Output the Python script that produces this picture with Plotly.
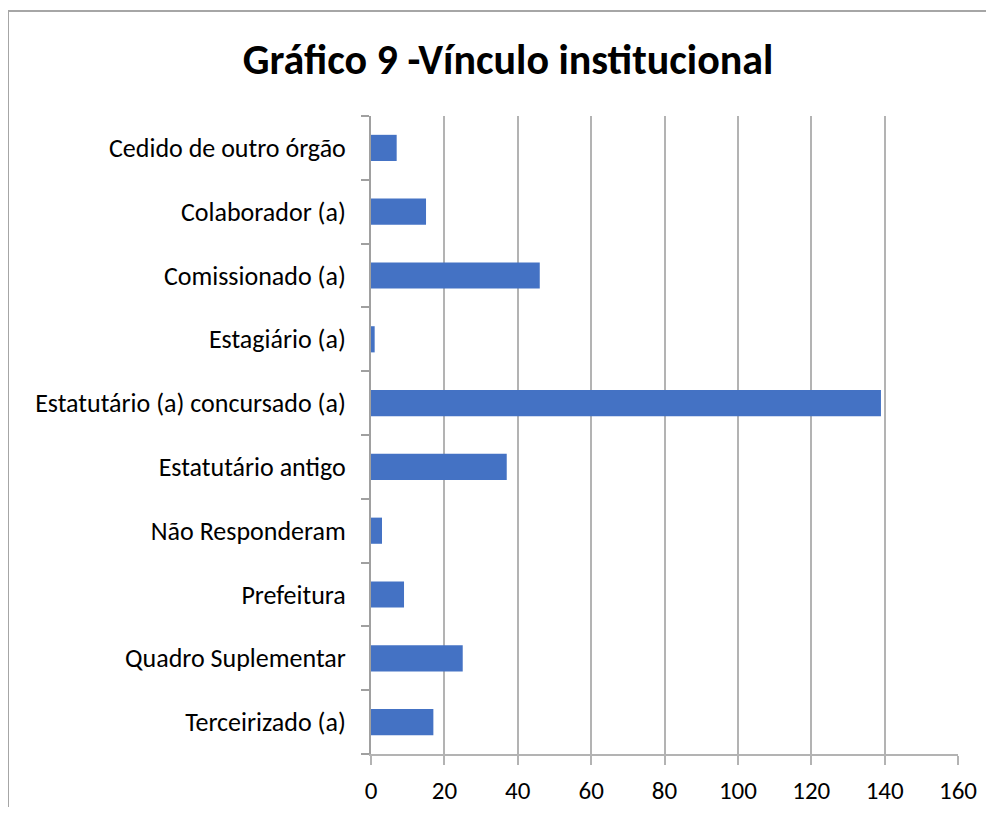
import plotly.graph_objects as go

categories = [
    "Cedido de outro órgão",
    "Colaborador (a)",
    "Comissionado (a)",
    "Estagiário (a)",
    "Estatutário (a) concursado (a)",
    "Estatutário antigo",
    "Não Responderam",
    "Prefeitura",
    "Quadro Suplementar",
    "Terceirizado (a)",
]
values = [7, 15, 46, 1, 139, 37, 3, 9, 25, 17]
x_ticks = [0, 20, 40, 60, 80, 100, 120, 140, 160]
title_text = "Gráfico 9 -Vínculo institucional"

# page offset (body margin) compensation
OFF = 8
W, H = 994 - OFF, 815 - 2 * OFF
L, R, T, B = 371 - OFF, 958 - OFF, 116 - OFF, 754 - OFF
pw, ph = R - L, B - T

font_family = "Carlito, Calibri, Lato, sans-serif"

fig = go.Figure(go.Bar(
    x=values, y=categories, orientation="h",
    marker=dict(color="#4472C4", line=dict(width=0)),
    width=0.41,
))

fig.update_layout(
    width=W, height=H,
    margin=dict(l=L, r=W - R, t=T, b=H - B, autoexpand=False),
    paper_bgcolor="white", plot_bgcolor="white",
    showlegend=False,
    font=dict(family=font_family, color="#000000", size=26),
    title=dict(text="<b>" + title_text + "</b>", x=(508 - OFF) / W, xanchor="center",
               xref="container", y=1 - (59 - OFF) / H, yanchor="middle", yref="container",
               font=dict(family=font_family, size=42, color="#000000")),
    bargap=0.59,
)

fig.update_xaxes(
    range=[0, 160], tickvals=x_ticks, showgrid=True, gridcolor="#b3b3b3", gridwidth=1.5,
    showline=True, linecolor="#b3b3b3", linewidth=1.5,
    ticks="outside", ticklen=9, tickcolor="#b3b3b3", tickwidth=1.5,
    zeroline=False, tickfont=dict(size=25, color="#000000"),
    ticklabelstandoff=4, automargin=False,
)
fig.update_yaxes(
    categoryorder="array", categoryarray=categories[::-1],
    showline=True, linecolor="#a0a0a0", linewidth=2,
    ticks="outside", tickson="boundaries", ticklen=8, tickcolor="#a0a0a0", tickwidth=1.5,
    showgrid=False, tickfont=dict(size=26, color="#000000"),
    ticklabelstandoff=18, automargin=False,
)

# outer chart border (top and left visible)
bx = (8 - OFF - L) / pw
by = (B - (11 - OFF)) / ph
fig.add_shape(type="line", xref="paper", yref="paper", x0=bx, y0=by, x1=(W + 10 - L) / pw, y1=by,
              line=dict(color="#a6a6a6", width=2))
fig.add_shape(type="line", xref="paper", yref="paper", x0=bx, y0=by, x1=bx, y1=(B - H - 10) / ph,
              line=dict(color="#a6a6a6", width=2))

fig.write_html("out.html")
